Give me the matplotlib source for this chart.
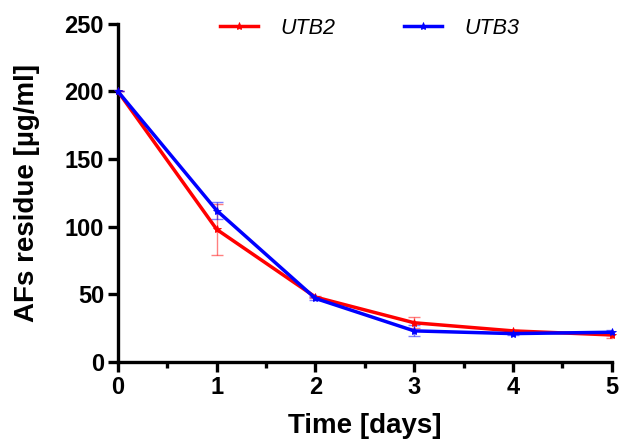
import matplotlib
matplotlib.use("Agg")
import matplotlib.pyplot as plt
from matplotlib.ticker import MultipleLocator
from matplotlib.lines import Line2D

plt.rcParams['font.family'] = ['Liberation Sans', 'DejaVu Sans']

days = [0, 1, 2, 3, 4, 5]
utb2 = [200, 98, 48, 29, 23, 20]
utb2_err = [0, 19, 1, 4, 1, 2]
utb3 = [200, 112, 47, 23, 21, 22]
utb3_err = [0, 6, 1, 4, 1, 2]

fig = plt.figure(figsize=(6.21, 4.42), dpi=100)
ax = fig.add_axes([0.19, 0.181, 0.795, 0.765])

handles = []
for y, e, c, lab in [(utb2, utb2_err, '#ff0000', 'UTB2'), (utb3, utb3_err, '#0000ff', 'UTB3')]:
    ax.errorbar(days, y, yerr=e, fmt='none', ecolor=c, alpha=0.5, elinewidth=1,
                capsize=4, capthick=1, zorder=2)
    ax.plot(days, y, color=c, lw=2.5, marker='*', ms=6, mew=0.6, zorder=3, clip_on=False)
    handles.append(Line2D([], [], color=c, lw=2.5, marker='*', ms=6, mew=0.6, label=lab))

ax.set_xlim(0, 5)
ax.set_ylim(0, 250)
ax.set_xticks(days)
ax.set_yticks([0, 50, 100, 150, 200, 250])
ax.xaxis.set_minor_locator(MultipleLocator(0.5))
for s in ['top', 'right']:
    ax.spines[s].set_visible(False)
for s in ['left', 'bottom']:
    ax.spines[s].set_linewidth(2.4)
ax.tick_params(axis='both', which='major', width=2.4, length=7, labelsize=17)
ax.tick_params(axis='x', which='major', pad=3)
ax.tick_params(axis='y', which='major', pad=3)
ax.tick_params(axis='x', which='minor', width=2.4, length=4)
for t in ax.get_xticklabels() + ax.get_yticklabels():
    t.set_fontweight('bold')
ax.set_xlabel('Time [days]', fontsize=20, fontweight='bold', labelpad=10)
ax.set_ylabel('AFs residue [µg/ml]', fontsize=20, fontweight='bold', labelpad=18)

ax.legend(handles=handles, loc='upper center', bbox_to_anchor=(0.51, 1.075), ncol=2, frameon=False,
          prop={'style': 'italic', 'size': 15.5}, columnspacing=3.2, handlelength=1.75,
          handletextpad=1.05)
fig.savefig('out.png', dpi=100)
